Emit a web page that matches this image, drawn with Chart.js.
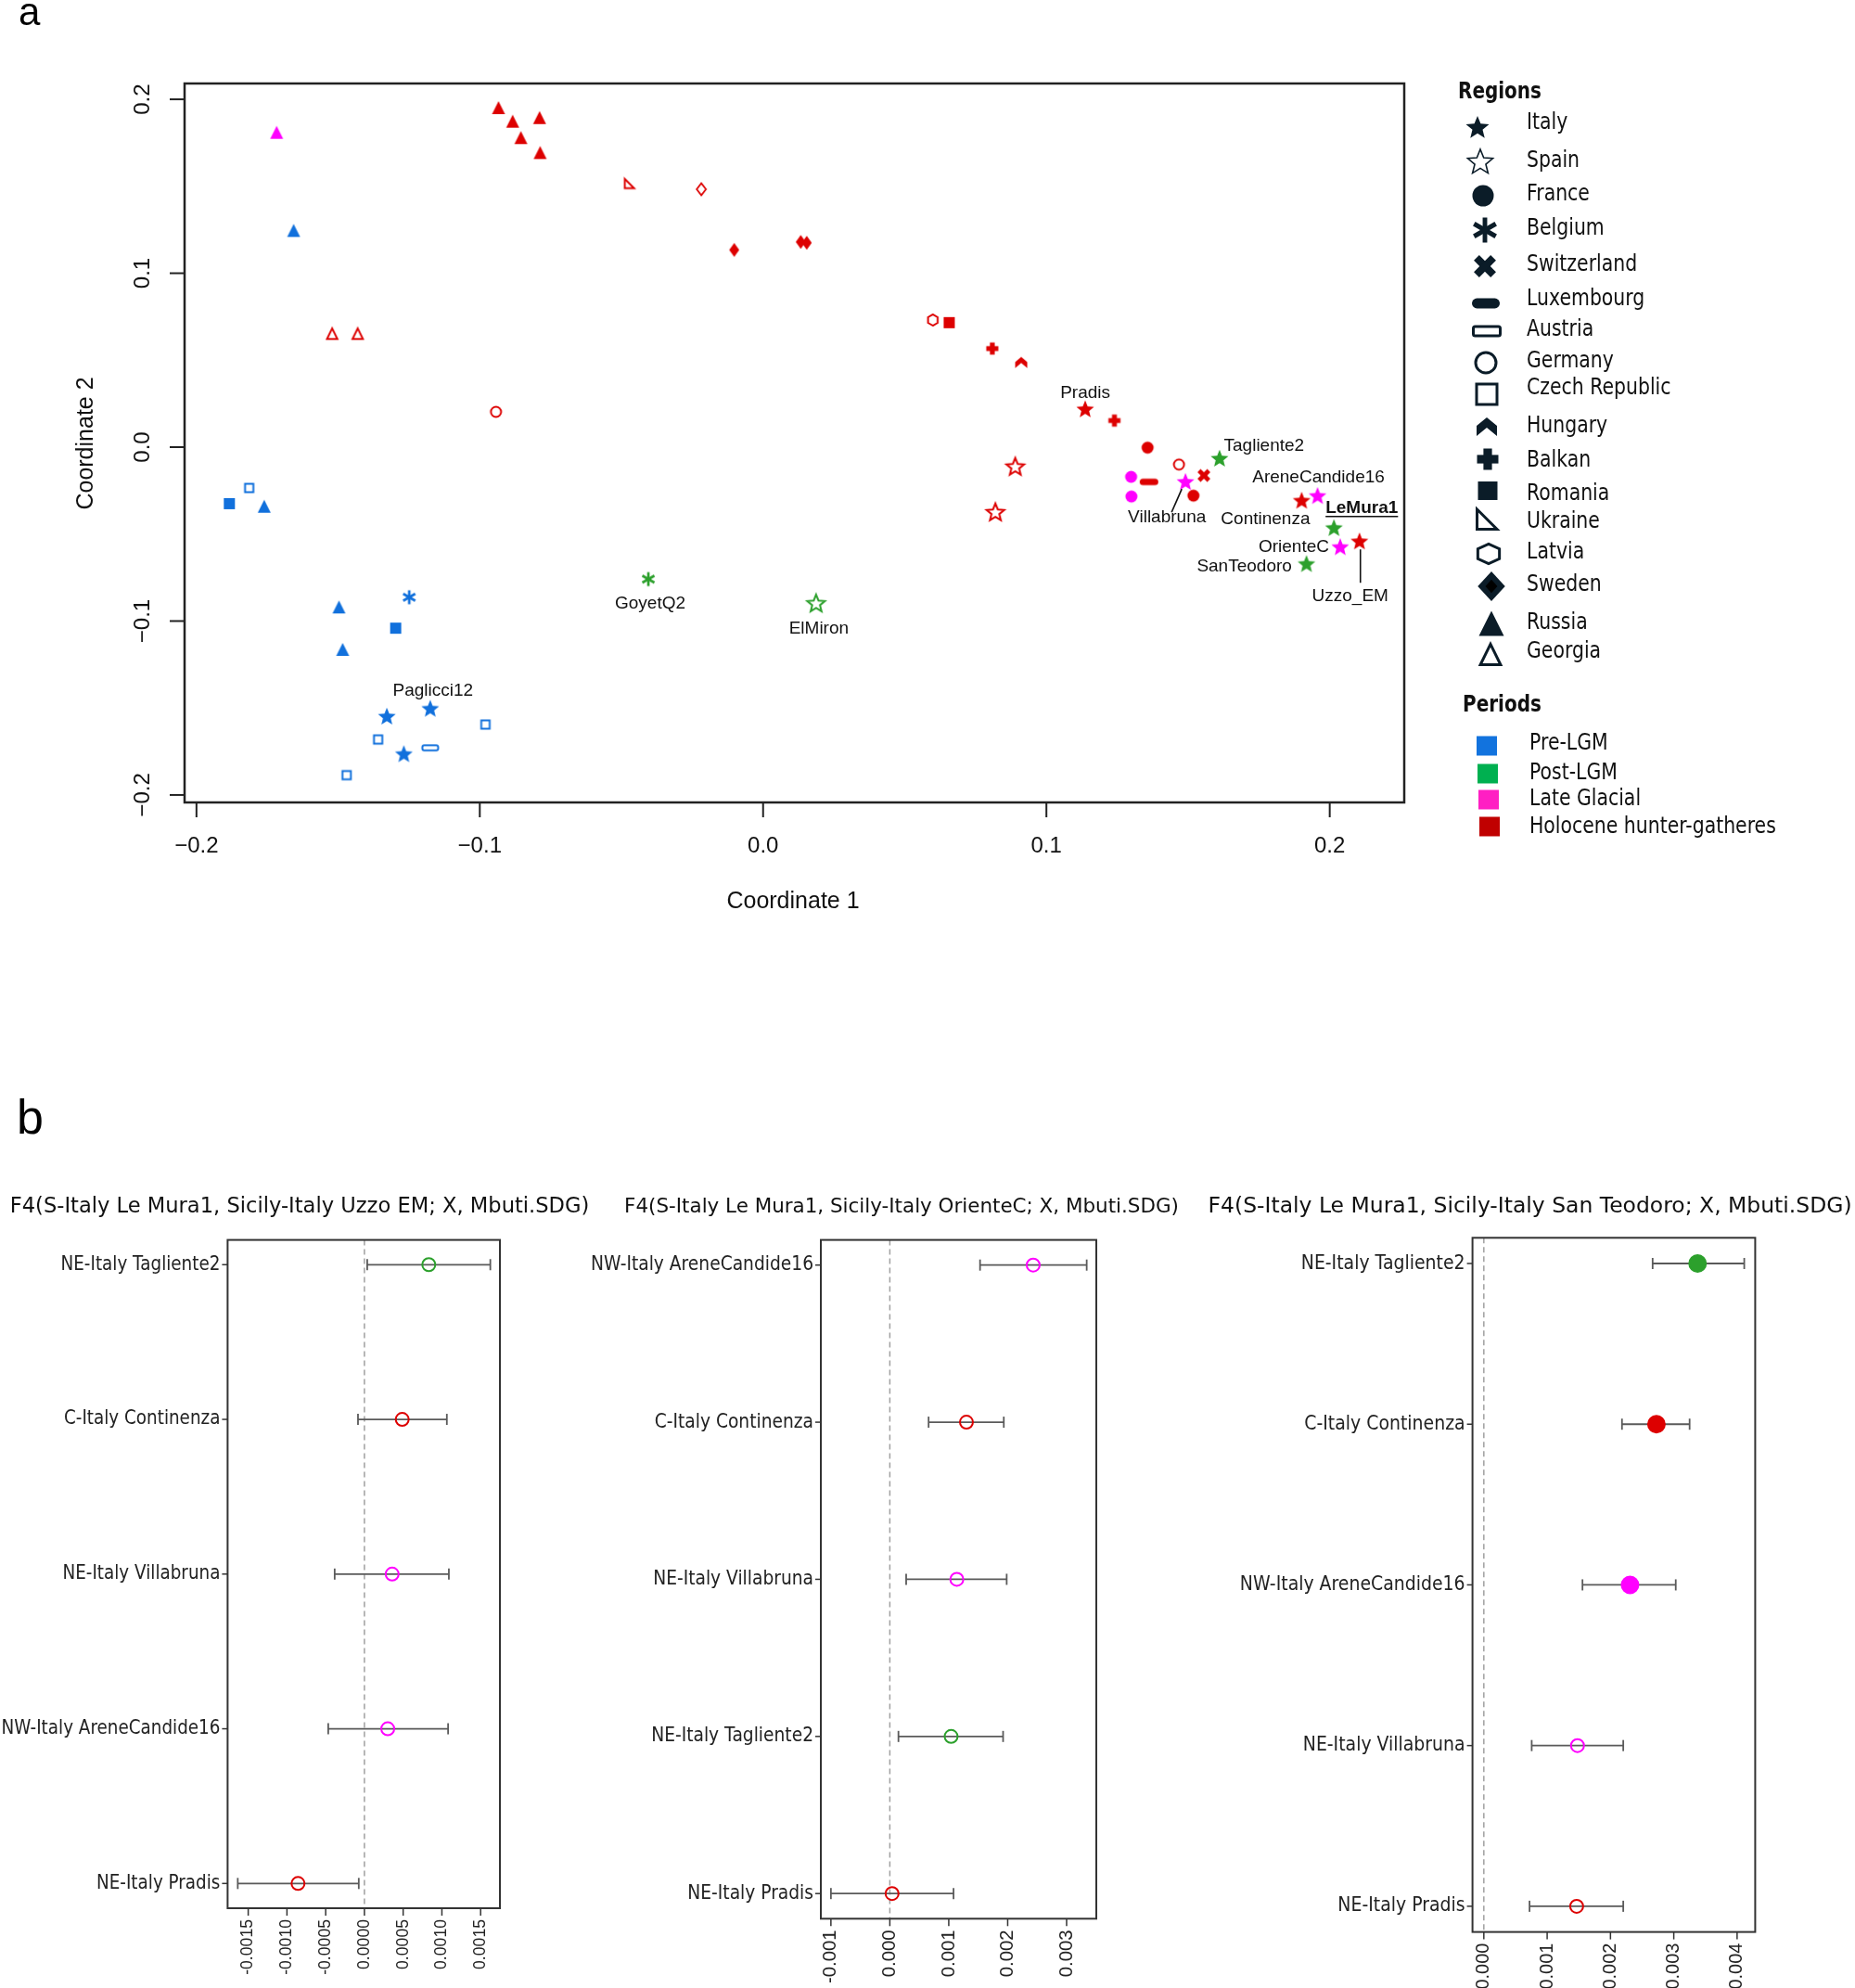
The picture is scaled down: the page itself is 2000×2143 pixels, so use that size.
<!DOCTYPE html>
<html>
<head>
<meta charset="utf-8">
<script src="https://cdn.jsdelivr.net/npm/chart.js@4.4.1/dist/chart.umd.min.js"></script>
<style>
  html, body { margin: 0; padding: 0; background: #fff; }
  #page { position: relative; width: 2000px; height: 2143px; overflow: hidden; background: #fff; }
  #page canvas { position: absolute; left: 0; top: 0; }
</style>
</head>
<body>
<div id="page">
  <canvas id="mds" width="2000" height="2143"></canvas>
  <canvas id="f4uzzo" width="2000" height="2143"></canvas>
  <canvas id="f4oriente" width="2000" height="2143"></canvas>
  <canvas id="f4teodoro" width="2000" height="2143"></canvas>
</div>
<script>
// --- 1. Datos panel a (MDS) ---
const PRE = 'Pre-LGM', POST = 'Post-LGM', LG = 'Late Glacial', HHG = 'Holocene hunter-gatheres';
const periodNames = [PRE, POST, LG, HHG];
const regionNames = ['Italy', 'Spain', 'France', 'Belgium', 'Switzerland', 'Luxembourg', 'Austria', 'Germany',
  'Czech Republic', 'Hungary', 'Balkan', 'Romania', 'Ukraine', 'Latvia', 'Sweden', 'Russia', 'Georgia'];

const coord1 = [
  -0.1657, -0.1814, -0.1884, -0.1761, -0.1249, -0.1497, -0.1297, -0.1484, -0.1175, -0.1328, -0.0980, -0.1359, -0.1175, -0.1268, -0.1470,
  -0.0405, 0.0187, 0.1611, 0.2015, 0.1918,
  -0.1717, 0.1299, 0.1300, 0.1491, 0.1957, 0.2037,
  -0.0934, -0.0884, -0.0789, -0.0855, -0.0787, -0.0470, -0.0218, -0.0102, 0.0133, 0.0154, -0.1521, -0.1431, -0.0943, 0.0599,
  0.0657, 0.0809, 0.0911, 0.1137, 0.1240, 0.1357, 0.0890, 0.0820, 0.1362, 0.1468, 0.1556, 0.1519, 0.1901, 0.2105
];
const coord2 = [
  0.1246, -0.0235, -0.0325, -0.0340, -0.0863, -0.0919, -0.1041, -0.1163, -0.1502, -0.1547, -0.1595, -0.1681, -0.1729, -0.1763, -0.1886,
  -0.0759, -0.0897, -0.0064, -0.0463, -0.0670,
  0.1810, -0.0171, -0.0284, -0.0198, -0.0279, -0.0573,
  0.1952, 0.1874, 0.1895, 0.1780, 0.1694, 0.1518, 0.1483, 0.1134, 0.1180, 0.1175, 0.0654, 0.0654, 0.0203, 0.0731,
  0.0716, 0.0567, 0.0487, 0.0220, 0.0153, -0.0003, -0.0111, -0.0373, -0.0200, -0.0100, -0.0163, -0.0279, -0.0306, -0.0540
];
const region = [
  'Russia', 'Czech Republic', 'Romania', 'Russia', 'Belgium', 'Russia', 'Romania', 'Russia', 'Italy', 'Italy', 'Czech Republic', 'Czech Republic', 'Austria', 'Italy', 'Czech Republic',
  'Belgium', 'Spain', 'Italy', 'Italy', 'Italy',
  'Russia', 'France', 'France', 'Italy', 'Italy', 'Italy',
  'Russia', 'Russia', 'Russia', 'Russia', 'Russia', 'Ukraine', 'Unlisted', 'Sweden', 'Sweden', 'Sweden', 'Georgia', 'Georgia', 'Germany', 'Latvia',
  'Romania', 'Balkan', 'Hungary', 'Italy', 'Balkan', 'France', 'Spain', 'Spain', 'Luxembourg', 'Germany', 'Switzerland', 'France', 'Italy', 'Italy'
];
const period = [
  PRE, PRE, PRE, PRE, PRE, PRE, PRE, PRE, PRE, PRE, PRE, PRE, PRE, PRE, PRE,
  POST, POST, POST, POST, POST,
  LG, LG, LG, LG, LG, LG,
  HHG, HHG, HHG, HHG, HHG, HHG, HHG, HHG, HHG, HHG, HHG, HHG, HHG, HHG,
  HHG, HHG, HHG, HHG, HHG, HHG, HHG, HHG, HHG, HHG, HHG, HHG, HHG, HHG
];
const sample = [
  '', '', '', '', '', '', '', '', 'Paglicci12', '', '', '', '', '', '',
  'GoyetQ2', 'ElMiron', 'Tagliente2', 'LeMura1', 'SanTeodoro',
  '', '', '', 'Villabruna', 'AreneCandide16', 'OrienteC',
  '', '', '', '', '', '', '', '', '', '', '', '', '', '',
  '', '', '', 'Pradis', '', '', '', '', '', '', '', '', 'Continenza', 'Uzzo_EM'
];
const mdsTicks = [-0.2, -0.1, 0, 0.1, 0.2];
const mdsTickLabels = ['\u22120.2', '\u22120.1', '0.0', '0.1', '0.2'];
const mdsRangeX = [-0.2042, 0.2263];
const mdsRangeY = [-0.2043, 0.2091];

// --- 2. Datos panel b (F4) ---
const f4UzzoPops = ['NE-Italy Tagliente2', 'C-Italy Continenza', 'NE-Italy Villabruna', 'NW-Italy AreneCandide16', 'NE-Italy Pradis'];
const f4UzzoEst = [0.000831, 0.000488, 0.000358, 0.000301, -0.000857];
const f4UzzoLow = [0.000036, -0.000083, -0.000384, -0.000467, -0.001635];
const f4UzzoHigh = [0.001625, 0.001064, 0.001090, 0.001080, -0.000073];
const f4UzzoSig = [false, false, false, false, false];
const f4UzzoTicks = ['-0.0015', '-0.0010', '-0.0005', '0.0000', '0.0005', '0.0010', '0.0015'];
const f4UzzoRange = [-0.001766, 0.001749];

const f4OrientePops = ['NW-Italy AreneCandide16', 'C-Italy Continenza', 'NE-Italy Villabruna', 'NE-Italy Tagliente2', 'NE-Italy Pradis'];
const f4OrienteEst = [0.002433, 0.001300, 0.001137, 0.001040, 0.000038];
const f4OrienteLow = [0.001531, 0.000658, 0.000277, 0.000146, -0.001000];
const f4OrienteHigh = [0.003341, 0.001934, 0.001983, 0.001922, 0.001081];
const f4OrienteSig = [false, false, false, false, false];
const f4OrienteTicks = ['-0.001', '0.000', '0.001', '0.002', '0.003'];
const f4OrienteRange = [-0.001171, 0.003504];

const f4TeodoroPops = ['NE-Italy Tagliente2', 'C-Italy Continenza', 'NW-Italy AreneCandide16', 'NE-Italy Villabruna', 'NE-Italy Pradis'];
const f4TeodoroEst = [0.003376, 0.002726, 0.002309, 0.001479, 0.001466];
const f4TeodoroLow = [0.002666, 0.002182, 0.001558, 0.000756, 0.000722];
const f4TeodoroHigh = [0.004113, 0.003250, 0.003031, 0.002202, 0.002202];
const f4TeodoroSig = [true, true, true, false, false];
const f4TeodoroTicks = ['0.000', '0.001', '0.002', '0.003', '0.004'];
const f4TeodoroRange = [-0.000179, 0.004286];

// --- 3. Estilos ---
const periodColor = { [PRE]: '#1170dc', [POST]: '#2ca02c', [LG]: '#ff00ff', [HHG]: '#dd0000' };
const periodSwatch = { [PRE]: '#1273de', [POST]: '#00b050', [LG]: '#ff1fc3', [HHG]: '#c00000' };
const regionShape = {
  Italy: 'star', Spain: 'starOpen', France: 'circle', Belgium: 'asterisk', Switzerland: 'cross',
  Luxembourg: 'dash', Austria: 'rectOpen', Germany: 'circleOpen', 'Czech Republic': 'squareOpen',
  Hungary: 'hungary', Balkan: 'plus', Romania: 'square', Ukraine: 'ukraine', Latvia: 'hexagon',
  Sweden: 'diamond', Russia: 'triangle', Georgia: 'triangleOpen', Unlisted: 'diamondOpen'
};
const plotSize = {
  star: 19, starOpen: 19, circle: 13, circleOpen: 13, asterisk: 15, cross: 14, dash: 20, rectOpen: 19,
  squareOpen: 11, square: 12, hungary: 13, plus: 13, ukraine: 13, hexagon: 14, diamond: 15,
  diamondOpen: 15, triangle: 14, triangleOpen: 14
};
const legendInk = '#0b1c28';
const legendSymX = [1593, 1596, 1599, 1601, 1601, 1602, 1603, 1602, 1603, 1603, 1604, 1604, 1604, 1605, 1608, 1608, 1607];
const legendSymY = [137, 174, 211, 248, 287, 327, 357, 391, 425, 460, 495, 529, 559, 597, 632, 672, 705];
const legendSymS = [25, 27, 23, 27, 24, 30, 32, 25, 25, 22, 23, 21, 26, 27, 32, 27, 26];
const legendTextY = [133, 174, 210, 247, 286, 323, 356, 390, 419, 460, 497, 533, 563, 596, 631, 672, 703];
const periodBoxY = [804, 834, 862, 891];
const periodTextY = [802, 834, 862, 892];

const labelOffset = {
  Pradis: [0, -17], Tagliente2: [48, -13], Villabruna: [-20, 39], Continenza: [-39, 20],
  AreneCandide16: [1, -20], LeMura1: [30, -21], OrienteC: [-50, 0], SanTeodoro: [-67, 3],
  Uzzo_EM: [-10, 60], ElMiron: [3, 28], GoyetQ2: [2, 26], Paglicci12: [3, -19]
};
const leaderLines = { Villabruna: [[-4, 8], [-15, 33]], Uzzo_EM: [[1, 9], [1, 45]] };

// --- 4. Utilidades de dibujo ---
function line(c, x1, y1, x2, y2) { c.beginPath(); c.moveTo(x1, y1); c.lineTo(x2, y2); c.stroke(); }

function poly(c, pts) { c.beginPath(); pts.forEach((p, i) => i ? c.lineTo(p[0], p[1]) : c.moveTo(p[0], p[1])); c.closePath(); }

function drawShape(c, shape, x, y, s, col, legend) {
  c.save();
  c.translate(x, y);
  c.fillStyle = col; c.strokeStyle = col; c.lineJoin = 'miter';
  const lw = legend ? 3 : 2;
  const h = s / 2;
  switch (shape) {
    case 'star': case 'starOpen': {
      const R = s / 1.9, r = R * 0.44, pts = [];
      for (let i = 0; i < 10; i++) {
        const a = -Math.PI / 2 + i * Math.PI / 5, rr = i % 2 ? r : R;
        pts.push([rr * Math.cos(a), rr * Math.sin(a) + R * 0.08]);
      }
      poly(c, pts);
      if (shape === 'star') c.fill(); else { c.lineWidth = legend ? 1.6 : 2; c.stroke(); }
      break;
    }
    case 'circle': c.beginPath(); c.arc(0, 0, h, 0, 2 * Math.PI); c.fill(); break;
    case 'circleOpen': c.beginPath(); c.arc(0, 0, h - lw / 2, 0, 2 * Math.PI); c.lineWidth = lw; c.stroke(); break;
    case 'asterisk': {
      c.lineWidth = s / 5.5;
      [90, 30, 150].forEach(d => {
        const a = d * Math.PI / 180;
        line(c, -h * Math.cos(a), -h * Math.sin(a), h * Math.cos(a), h * Math.sin(a));
      });
      break;
    }
    case 'cross': {
      c.lineWidth = s * 0.34;
      const d = h - c.lineWidth * 0.36;
      line(c, -d, -d, d, d); line(c, d, -d, -d, d);
      break;
    }
    case 'dash': { const hh = s * 0.36; c.beginPath(); c.roundRect(-h, -hh / 2, s, hh, hh / 2); c.fill(); break; }
    case 'rectOpen': {
      const hh = s * 0.4; c.lineWidth = lw; c.beginPath();
      c.roundRect(-h + lw / 2, -hh / 2 + lw / 2, s - lw, hh - lw, 2); c.stroke(); break;
    }
    case 'squareOpen': c.lineWidth = lw; c.strokeRect(-h + lw / 2, -h + lw / 2, s - lw, s - lw); break;
    case 'square': c.fillRect(-h, legend ? -h * 0.95 : -h, s, legend ? s * 0.95 : s); break;
    case 'hungary': {
      const hh = s * 0.46;
      poly(c, [[0, -hh], [h, -hh + s * 0.42], [h, hh], [0, hh - s * 0.42], [-h, hh], [-h, -hh + s * 0.42]]);
      c.fill(); break;
    }
    case 'plus': { const t = s * 0.4; c.fillRect(-h, -t / 2, s, t); c.fillRect(-t / 2, -h, t, s); break; }
    case 'ukraine': {
      const i = lw / 2;
      poly(c, [[-h + i, -h + i * 2], [h - i * 2, h - i], [-h + i, h - i]]);
      c.lineWidth = lw; c.stroke(); break;
    }
    case 'hexagon': {
      const pts = [], R = h - lw / 2;
      for (let i = 0; i < 6; i++) {
        const a = Math.PI / 2 + i * Math.PI / 3;
        pts.push([R * Math.cos(a) * (legend ? 1.12 : 1), R * Math.sin(a) * (legend ? 0.88 : 1)]);
      }
      poly(c, pts); c.lineWidth = lw; c.stroke(); break;
    }
    case 'diamond': {
      const w = legend ? s * 0.92 : s * 0.72;
      poly(c, [[0, -h], [w / 2, 0], [0, h], [-w / 2, 0]]); c.fill();
      if (legend) { c.fillStyle = '#000'; poly(c, [[0, -h * 0.45], [w * 0.22, 0], [0, h * 0.45], [-w * 0.22, 0]]); c.fill(); }
      break;
    }
    case 'diamondOpen': {
      const w = s * 0.66;
      poly(c, [[0, -h + 1], [w / 2, 0], [0, h - 1], [-w / 2, 0]]); c.lineWidth = 1.8; c.stroke(); break;
    }
    case 'triangle': poly(c, [[0, -h], [h, h], [-h, h]]); c.fill(); break;
    case 'triangleOpen': {
      const i = lw / 2;
      poly(c, [[0, -h + i * 1.6], [h - i * 1.4, h - i], [-h + i * 1.4, h - i]]);
      c.lineWidth = lw; c.stroke(); break;
    }
  }
  c.restore();
}

const symbolCache = {};
function symbol(shape, col) {
  const key = shape + col;
  if (!symbolCache[key]) {
    const cv = document.createElement('canvas');
    cv.width = 28; cv.height = 28;
    drawShape(cv.getContext('2d'), shape, 14, 14, plotSize[shape], col, false);
    symbolCache[key] = cv;
  }
  return symbolCache[key];
}

function text(c, str, x, y, font, align, baseline, color, rot, stretch) {
  c.save();
  c.font = font; c.fillStyle = color || '#111';
  c.textAlign = align || 'center'; c.textBaseline = baseline || 'middle';
  c.translate(x, y);
  if (rot) c.rotate(rot);
  if (stretch) c.scale(1, stretch);
  c.fillText(str, 0, 0);
  c.restore();
}

function fitSize(c, str, family, weight, target) {
  c.save(); c.font = weight + ' 100px ' + family;
  const w = c.measureText(str).width; c.restore();
  return 100 * target / w;
}

// --- 5. Panel a: gráfico MDS ---
const mdsDatasets = periodNames.map(p => {
  const idx = coord1.map((_, i) => i).filter(i => period[i] === p);
  return {
    label: p,
    data: idx.map(i => ({ x: coord1[i], y: coord2[i] })),
    pointStyle: idx.map(i => symbol(regionShape[region[i]], periodColor[p])),
    pointRadius: 6,
    pointHoverRadius: 6,
    clip: false
  };
});

const mdsDecor = {
  id: 'mdsDecor',
  afterDraw(chart) {
    const c = chart.ctx, a = chart.chartArea, sx = chart.scales.x, sy = chart.scales.y;
    c.save();
    c.strokeStyle = '#222'; c.lineWidth = 2.5;
    c.strokeRect(a.left, a.top, a.right - a.left, a.bottom - a.top);
    c.lineWidth = 2;
    const tickFont = '24px "Liberation Sans", Arial, sans-serif';
    mdsTicks.forEach((v, i) => {
      const px = sx.getPixelForValue(v);
      line(c, px, a.bottom, px, a.bottom + 16);
      text(c, mdsTickLabels[i], px, 912, tickFont);
      const py = sy.getPixelForValue(v);
      line(c, a.left, py, a.left - 16, py);
      text(c, mdsTickLabels[i], 154, py, tickFont, 'center', 'middle', '#111', -Math.PI / 2);
    });
    const titleFont = '25px "Liberation Sans", Arial, sans-serif';
    text(c, 'Coordinate 1', 855, 972, titleFont);
    text(c, 'Coordinate 2', 93, 478, titleFont, 'center', 'middle', '#111', -Math.PI / 2);

    // etiquetas de muestras
    const lblFont = '19px "Liberation Sans", Arial, sans-serif';
    c.strokeStyle = '#111'; c.lineWidth = 1.6;
    sample.forEach((name, i) => {
      if (!name) return;
      const px = sx.getPixelForValue(coord1[i]), py = sy.getPixelForValue(coord2[i]);
      const [dx, dy] = labelOffset[name];
      if (name === 'LeMura1') {
        const f = 'bold ' + lblFont;
        text(c, name, px + dx, py + dy, f);
        c.font = f;
        const w = c.measureText(name).width;
        line(c, px + dx - w / 2, py + dy + 9, px + dx + w / 2, py + dy + 9);
      } else {
        text(c, name, px + dx, py + dy, lblFont);
      }
      if (leaderLines[name]) {
        const [p1, p2] = leaderLines[name];
        line(c, px + p1[0], py + p1[1], px + p2[0], py + p2[1]);
      }
    });

    // leyenda
    const fam = '"DejaVu Sans", Verdana, sans-serif';
    const fs = fitSize(c, 'Holocene hunter-gatheres', fam, 'normal', 266);
    const hs = fitSize(c, 'Regions', fam, 'bold', 90);
    text(c, 'Regions', 1572, 100, 'bold ' + hs + 'px ' + fam, 'left', 'middle', '#111', 0, 1.2);
    regionNames.forEach((r, i) => {
      drawShape(c, regionShape[r], legendSymX[i], legendSymY[i], legendSymS[i], legendInk, true);
      text(c, r, 1646, legendTextY[i], fs + 'px ' + fam, 'left', 'middle', '#111', 0, 1.22);
    });
    text(c, 'Periods', 1577, 761, 'bold ' + hs + 'px ' + fam, 'left', 'middle', '#111', 0, 1.2);
    periodNames.forEach((p, i) => {
      c.fillStyle = periodSwatch[p];
      c.fillRect(1592 + i, periodBoxY[i] - 10.5, 22, 21);
      text(c, p, 1649, periodTextY[i], fs + 'px ' + fam, 'left', 'middle', '#111', 0, 1.22);
    });

    // letras de panel
    text(c, 'a', 20, 27, '42px "Liberation Sans", Arial, sans-serif', 'left', 'alphabetic', '#000');
    text(c, 'b', 18, 1222, '52px "Liberation Sans", Arial, sans-serif', 'left', 'alphabetic', '#000');
    c.restore();
  }
};

new Chart(document.getElementById('mds'), {
  type: 'scatter',
  data: { datasets: mdsDatasets },
  options: {
    responsive: false, animation: false, devicePixelRatio: 1,
    layout: { padding: { left: 199, top: 90, right: 2000 - 1514, bottom: 2143 - 865 } },
    scales: {
      x: { type: 'linear', min: mdsRangeX[0], max: mdsRangeX[1], display: false },
      y: { type: 'linear', min: mdsRangeY[0], max: mdsRangeY[1], display: false }
    },
    plugins: { legend: { display: false }, tooltip: { enabled: false } },
    events: []
  },
  plugins: [mdsDecor]
});

// --- 6. Panel b: tres gráficos F4 ---
function popColor(pop) {
  const name = pop.split(' ').pop();
  return periodColor[period[sample.indexOf(name)]];
}

function makeF4(id, pops, est, low, high, sig, ticks, range, title, lay) {
  const deco = {
    id: 'f4Decor',
    beforeDatasetsDraw(chart) {
      const c = chart.ctx, a = chart.chartArea, sx = chart.scales.x, sy = chart.scales.y;
      c.save();
      const x0 = sx.getPixelForValue(0);
      c.strokeStyle = '#a0a0a0'; c.lineWidth = 1.5; c.setLineDash([6, 4]);
      line(c, x0, a.top, x0, a.bottom);
      c.setLineDash([]);
      c.strokeStyle = '#5a5a5a'; c.lineWidth = 1.8;
      est.forEach((v, i) => {
        const y = sy.getPixelForValue(i + 1);
        const lo = sx.getPixelForValue(low[i]), hi = sx.getPixelForValue(high[i]);
        line(c, lo, y, hi, y);
        line(c, lo, y - 6, lo, y + 6);
        line(c, hi, y - 6, hi, y + 6);
      });
      c.restore();
    },
    afterDraw(chart) {
      const c = chart.ctx, a = chart.chartArea, sx = chart.scales.x, sy = chart.scales.y;
      c.save();
      c.strokeStyle = '#333'; c.lineWidth = 2;
      c.strokeRect(a.left, a.top, a.right - a.left, a.bottom - a.top);
      c.lineWidth = 1.5;
      const tfs = fitSize(c, lay.tickRef, '"Liberation Sans", Arial', 'normal', lay.tickW);
      ticks.forEach(t => {
        const px = sx.getPixelForValue(parseFloat(t));
        line(c, px, a.bottom, px, a.bottom + 8);
        text(c, t, px, a.bottom + 12, tfs + 'px "Liberation Sans", Arial, sans-serif', 'right', 'middle', '#222', -Math.PI / 2);
      });
      const fam = '"DejaVu Sans", Verdana, sans-serif';
      const lfs = fitSize(c, 'NE-Italy Tagliente2', fam, 'normal', lay.labelW);
      pops.forEach((p, i) => {
        const y = sy.getPixelForValue(i + 1);
        line(c, a.left - 6, y, a.left, y);
        text(c, p, a.left - 8, y, lfs + 'px ' + fam, 'right', 'middle', '#222', 0, 1.12);
      });
      const tts = fitSize(c, title, fam, 'normal', lay.titleW);
      text(c, title, lay.titleX, 1301, tts + 'px ' + fam, 'center', 'middle', '#111');
      c.restore();
    }
  };
  new Chart(document.getElementById(id), {
    type: 'scatter',
    data: {
      datasets: [{
        data: est.map((v, i) => ({ x: v, y: i + 1 })),
        pointStyle: 'circle',
        pointRadius: sig.map(s => s ? 9 : 7),
        pointHoverRadius: sig.map(s => s ? 9 : 7),
        borderWidth: 2,
        pointBorderWidth: 2,
        pointBorderColor: pops.map(popColor),
        pointBackgroundColor: pops.map((p, i) => sig[i] ? popColor(p) : 'rgba(0,0,0,0)'),
        clip: false
      }]
    },
    options: {
      responsive: false, animation: false, devicePixelRatio: 1,
      layout: { padding: { left: lay.l, top: lay.t, right: 2000 - lay.r, bottom: 2143 - lay.b } },
      scales: {
        x: { type: 'linear', min: range[0], max: range[1], display: false },
        y: { type: 'linear', min: 0.84, max: 5.16, reverse: true, display: false }
      },
      plugins: { legend: { display: false }, tooltip: { enabled: false } },
      events: []
    },
    plugins: [deco]
  });
}

makeF4('f4uzzo', f4UzzoPops, f4UzzoEst, f4UzzoLow, f4UzzoHigh, f4UzzoSig, f4UzzoTicks, f4UzzoRange,
  'F4(S-Italy Le Mura1, Sicily-Italy Uzzo EM; X, Mbuti.SDG)',
  { l: 245.4, r: 539, t: 1336.6, b: 2057, titleX: 323, titleW: 625, labelW: 172, tickRef: '0.0005', tickW: 54 });
makeF4('f4oriente', f4OrientePops, f4OrienteEst, f4OrienteLow, f4OrienteHigh, f4OrienteSig, f4OrienteTicks, f4OrienteRange,
  'F4(S-Italy Le Mura1, Sicily-Italy OrienteC; X, Mbuti.SDG)',
  { l: 885, r: 1182, t: 1336.6, b: 2068.3, titleX: 972, titleW: 598, labelW: 175, tickRef: '0.001', tickW: 51 });
makeF4('f4teodoro', f4TeodoroPops, f4TeodoroEst, f4TeodoroLow, f4TeodoroHigh, f4TeodoroSig, f4TeodoroTicks, f4TeodoroRange,
  'F4(S-Italy Le Mura1, Sicily-Italy San Teodoro; X, Mbuti.SDG)',
  { l: 1587.6, r: 1892.4, t: 1334.3, b: 2082.6, titleX: 1649.6, titleW: 694, labelW: 177, tickRef: '0.001', tickW: 50 });
</script>
</body>
</html>
